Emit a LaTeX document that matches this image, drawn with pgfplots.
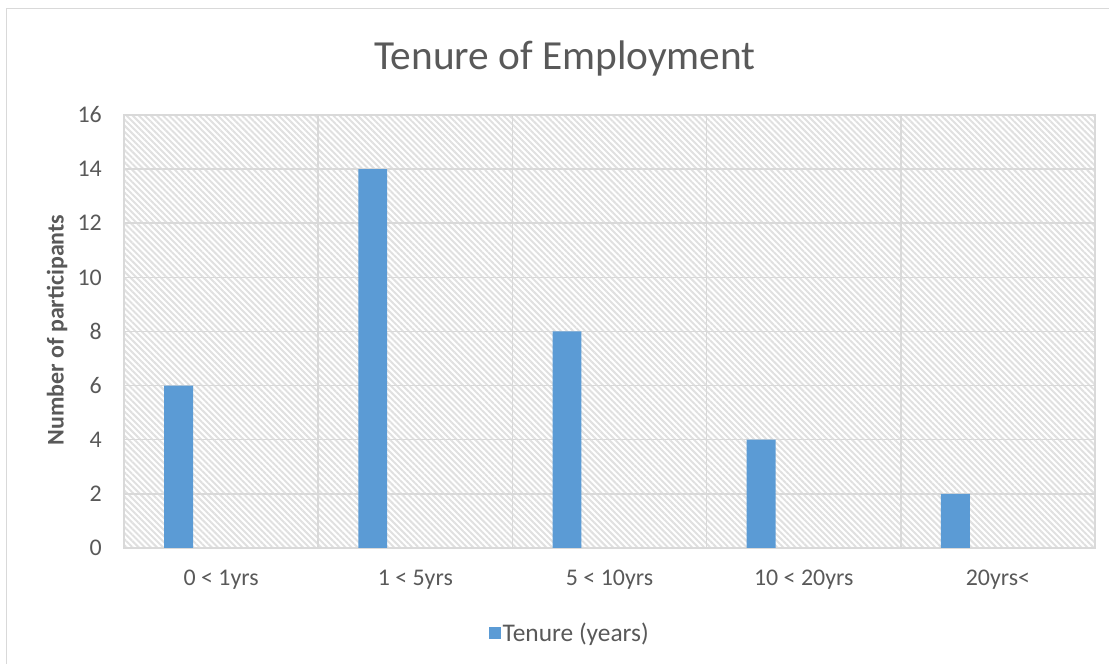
\documentclass[border=0pt]{standalone}
\usepackage{pgfplots}
\pgfplotsset{compat=1.18}
\usetikzlibrary{patterns.meta}
\usepackage{fontspec}
\setmainfont{Carlito}
\definecolor{barblue}{HTML}{5B9BD5}
\definecolor{txt}{HTML}{595959}
\definecolor{gridc}{HTML}{D9D9D9}
\definecolor{hatch}{HTML}{E0E0E0}
\begin{document}
\begin{tikzpicture}[x=1bp,y=1bp]
\useasboundingbox (0,0) rectangle (1109,664);
\draw[gridc, line width=1.5bp] (6.5,-5) -- (6.5,655.5) -- (1115,655.5);
\node[text=txt, font=\fontsize{41.5}{48}\selectfont, anchor=base] at (565,594) {Tenure of Employment};
\node[text=txt, font=\fontsize{24}{28}\selectfont\bfseries, rotate=90] at (57,334) {Number of participants};
\begin{axis}[
  at={(124bp,116bp)}, anchor=south west,
  scale only axis, width=971bp, height=433bp,
  xmin=-0.5, xmax=4.5, ymin=0, ymax=16,
  ytick={0,2,...,16},
  xtick={0,...,4},
  xticklabels={0 < 1yrs, 1 < 5yrs, 5 < 10yrs, 10 < 20yrs, 20yrs<},
  minor xtick={-0.5,0.5,...,4.5},
  xminorgrids, ymajorgrids,
  major tick length=0pt, minor tick length=0pt,
  grid style={gridc, line width=1.5bp},
  minor grid style={gridc, line width=1.5bp},
  axis line style={gridc, line width=1.5bp},
  axis background/.style={pattern={Lines[angle=-45,distance=4.3bp,line width=2bp]}, pattern color=hatch},
  /pgf/number format/assume math mode=true,
  tick label style={font=\fontsize{24}{28}\selectfont, text=txt, inner sep=0pt},
  yticklabel style={xshift=-22bp},
  xticklabel style={text height=15bp, yshift=-22bp},
  legend style={at={(0.459,-0.196)}, anchor=center, draw=none, fill=none,
    font=\fontsize{25.5}{30}\selectfont, text=txt},
  legend image code/.code={\fill[barblue] (-2bp,-6bp) rectangle (10bp,6bp);},
]
\addplot[ybar, bar width=0.149, bar shift=0pt, fill=barblue, draw=none]
  coordinates {(-0.219,6) (0.781,14) (1.781,8) (2.781,4) (3.781,2)};
\addlegendentry{Tenure (years)}
\end{axis}
\end{tikzpicture}
\end{document}
